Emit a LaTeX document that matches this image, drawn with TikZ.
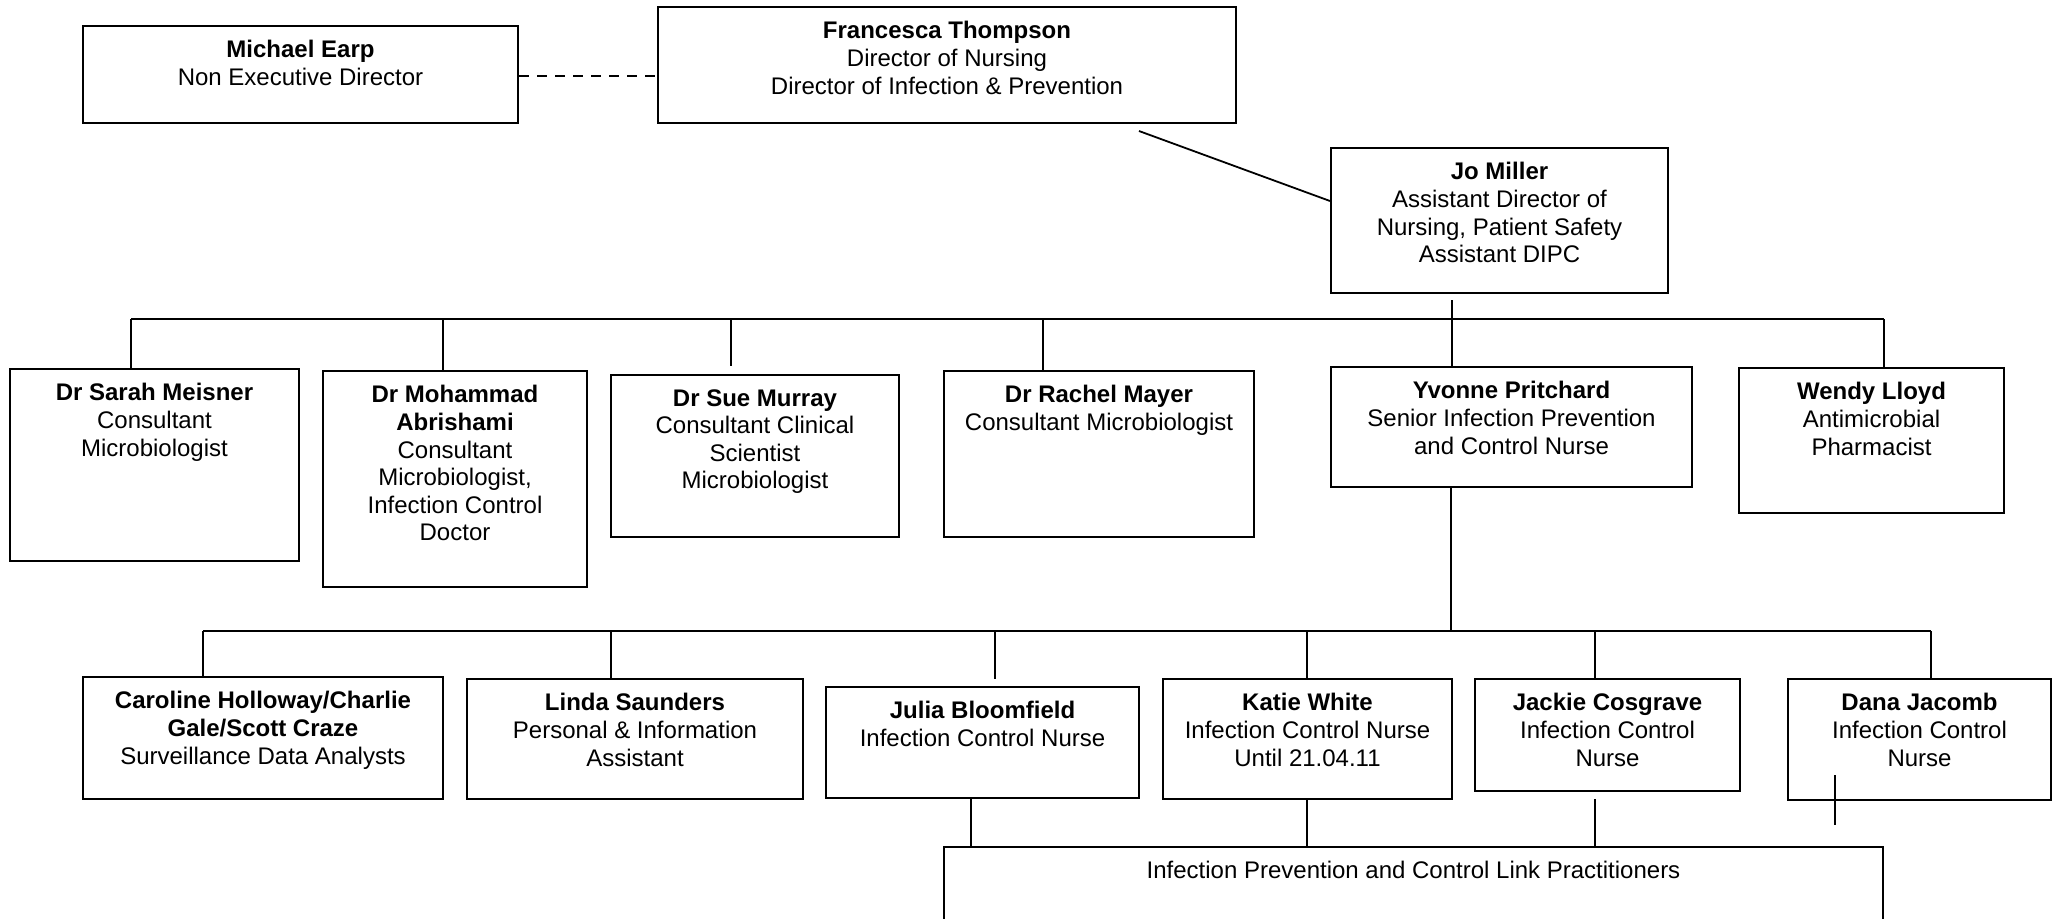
\documentclass[tikz,border=0pt]{standalone}
\usepackage{fontspec}
\setmainfont{Liberation Sans}
\tikzset{
  box/.style={draw, line width=1pt, rectangle, inner sep=0pt},
  lbl/.style={font=\fontsize{12}{13.8}\selectfont, align=center, anchor=north, inner sep=0pt},
  busline/.style={line width=1.3pt},
  tickline/.style={line width=0.8pt},
  dashline/.style={line width=1pt, dash pattern=on 5pt off 4pt},
}
\newcommand\orgbox[6]{%
  \node[box, minimum width={(#4-#2)*0.5pt}, minimum height={(#5-#3)*0.5pt}] (#1) at ({(#2+#4)/2},{(#3+#5)/2}) {};
  \node[lbl] (#1-t) at ([yshift=-7.5pt]#1.north) {#6};}
\begin{document}
\begin{tikzpicture}[x=0.5pt, y=-0.5pt]
\useasboundingbox (0,0) rectangle (2055,918);
\clip (0,0) rectangle (2055,918);
\fill[white] (0,0) rectangle (2055,918);

% boxes
\orgbox{michael}{83}{26}{518}{123}{\textbf{Michael Earp}\\Non Executive Director}
\orgbox{fran}{658}{7}{1236}{123}{\textbf{Francesca Thompson}\\Director of Nursing\\Director of Infection \& Prevention}
\orgbox{jo}{1331}{148}{1668}{293}{\textbf{Jo Miller}\\Assistant Director of\\Nursing, Patient Safety\\Assistant DIPC}
\orgbox{sarah}{10}{369}{299}{561}{\textbf{Dr Sarah Meisner}\\Consultant\\Microbiologist}
\orgbox{abr}{323}{371}{587}{587}{\textbf{Dr Mohammad}\\\textbf{Abrishami}\\Consultant\\Microbiologist,\\Infection Control\\Doctor}
\orgbox{sue}{611}{375}{899}{537}{\textbf{Dr Sue Murray}\\Consultant Clinical\\Scientist\\Microbiologist}
\orgbox{rachel}{944}{371}{1254}{537}{\textbf{Dr Rachel Mayer}\\Consultant Microbiologist}
\orgbox{yvonne}{1331}{367}{1692}{487}{\textbf{Yvonne Pritchard}\\Senior Infection Prevention\\and Control Nurse}
\orgbox{wendy}{1739}{368}{2004}{513}{\textbf{Wendy Lloyd}\\Antimicrobial\\Pharmacist}
\orgbox{caroline}{83}{677}{443}{799}{\textbf{Caroline Holloway/Charlie}\\\textbf{Gale/Scott Craze}\\Surveillance Data Analysts}
\orgbox{linda}{467}{679}{803}{799}{\textbf{Linda Saunders}\\Personal \& Information\\Assistant}
\orgbox{julia}{826}{687}{1139}{798}{\textbf{Julia Bloomfield}\\Infection Control Nurse}
\orgbox{katie}{1163}{679}{1452}{799}{\textbf{Katie White}\\Infection Control Nurse\\Until 21.04.11}
\orgbox{jackie}{1475}{679}{1740}{791}{\textbf{Jackie Cosgrave}\\Infection Control\\Nurse}
\orgbox{dana}{1788}{679}{2051}{800}{\textbf{Dana Jacomb}\\Infection Control\\Nurse}
\orgbox{link}{944}{847}{1883}{960}{Infection Prevention and Control Link Practitioners}

% top connectors
\draw[dashline] ([yshift=-0.75pt]michael.east) -- ([yshift=-0.75pt]michael.east -| fran.west);
\coordinate (fjs) at (1139,131);
\draw[line width=0.9pt] (fjs) -- ([yshift=-27pt]jo.north west);

% level 1 bus
\coordinate (a1) at (131,319);
\coordinate (a2) at (443,319);
\coordinate (a3) at (731,319);
\coordinate (a4) at (1043,319);
\coordinate (a5) at (1452,319);
\coordinate (a6) at (1884,319);
\draw[busline] (a1) -- (a6);
\draw[tickline] (a1) -- (a1 |- sarah.north);
\draw[tickline] (a2) -- (a2 |- abr.north);
\draw[tickline] (a3) -- ++(0,47);
\draw[tickline] (a4) -- (a4 |- rachel.north);
\draw[tickline] ([yshift=-3pt]jo.south -| a5) -- (a5 |- yvonne.north);
\draw[tickline] (a6) -- (a6 |- wendy.north);

% level 2 bus
\coordinate (b1) at (203,631);
\coordinate (b2) at (611,631);
\coordinate (b3) at (995,631);
\coordinate (b4) at (1307,631);
\coordinate (b5) at (1595,631);
\coordinate (b6) at (1931,631);
\coordinate (b0) at (1451,631);
\draw[busline] (b1) -- (b6);
\draw[tickline] (yvonne.south -| b0) -- (b0);
\draw[tickline] (b1) -- (b1 |- caroline.north);
\draw[tickline] (b2) -- (b2 |- linda.north);
\draw[tickline] (b3) -- ++(0,48);
\draw[tickline] (b4) -- (b4 |- katie.north);
\draw[tickline] (b5) -- (b5 |- jackie.north);
\draw[tickline] (b6) -- (b6 |- dana.north);

% level 3
\coordinate (c1) at (971,847);
\coordinate (c2) at (1307,847);
\coordinate (c3) at (1595,847);
\draw[tickline] (julia.south -| c1) -- (c1);
\draw[tickline] (katie.south -| c2) -- (c2);
\draw[tickline] ([yshift=-3.5pt]jackie.south -| c3) -- (c3);

% stray line in Dana's box
\coordinate (d1) at (1835,775);
\coordinate (d2) at (1835,825);
\draw[tickline] (d1) -- (d2);
\end{tikzpicture}
\end{document}
